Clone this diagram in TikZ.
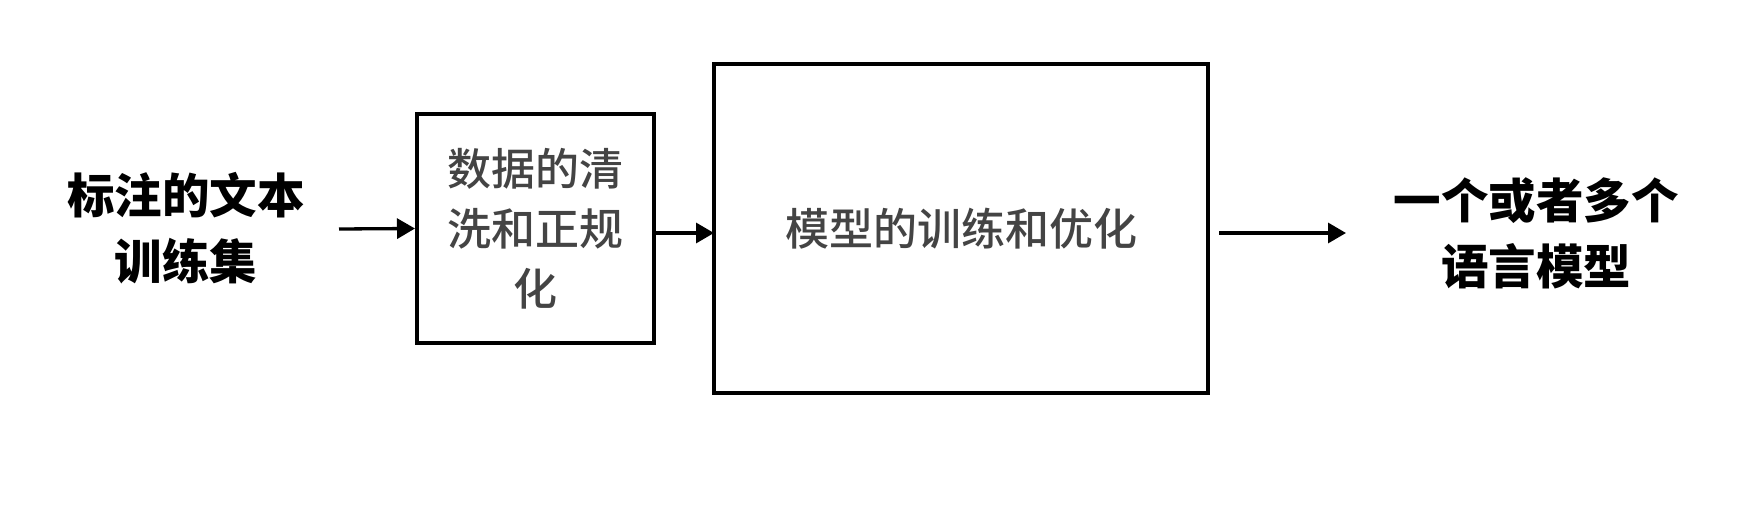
\documentclass[tikz,border=0pt]{standalone}
\usepackage{fontspec}
\newfontfamily\cjk{Noto Sans CJK SC}
\newfontfamily\cjkmed{Noto Sans CJK SC Medium}
\usetikzlibrary{arrows.meta}
\definecolor{boxtext}{HTML}{444444}
\tikzset{
  blockbox/.style={draw=black, line width=4pt, inner sep=0pt, align=center, text=boxtext, font=\cjkmed\fontsize{44}{60}\selectfont},
  plaintext/.style={inner sep=0pt, align=center, text=black, font=\cjk\bfseries\fontsize{47.5}{66.5}\selectfont},
  flow/.style={line width=3.3pt, -{Triangle[length=18pt,width=20pt]}}
}
\begin{document}
\begin{tikzpicture}[x=1pt,y=-1pt]
\useasboundingbox (0,0) rectangle (1764,508);
\node[plaintext] (src) at (186,228) {标注的文本\\训练集};
\node[blockbox, minimum width=237pt, minimum height=229pt] (clean) at (535.5,228.5) {数据的清\\洗和正规\\化};
\node[blockbox, minimum width=494pt, minimum height=329pt] (train) at (961,228.5) {模型的训练和优化};
\node[plaintext] (out) at (1536,233.5) {一个或者多个\\语言模型};
\coordinate (s1) at (339,229);
\coordinate (e3) at (1346,233);
\draw[flow] (s1) -- (clean.west);
\draw[flow] ([yshift=-4.5pt]clean.east) -- ([yshift=-4.5pt,xshift=2pt]train.west);
\draw[flow] ([xshift=9pt,yshift=-4.5pt]train.east) -- (e3);
\end{tikzpicture}
\end{document}
